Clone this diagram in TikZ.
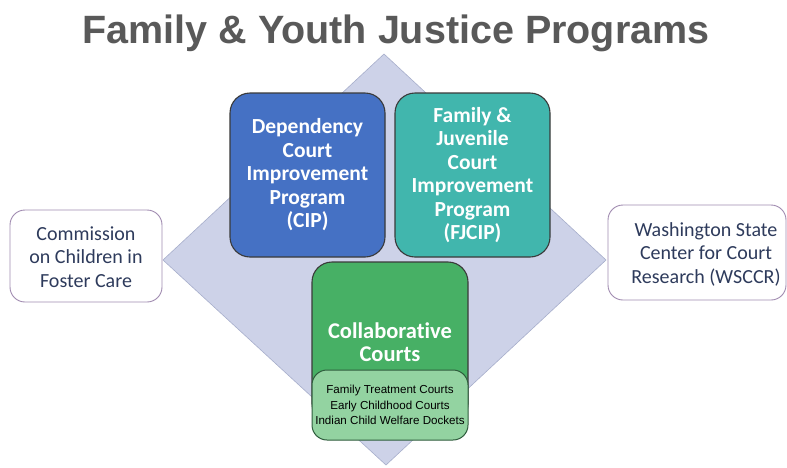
\documentclass[tikz,border=0pt]{standalone}
\usepackage{fontspec}
\setmainfont{Carlito}[RawFeature=-liga]
\newfontfamily\arialfont{Liberation Sans}
\definecolor{titlegray}{HTML}{595959}
\definecolor{diafill}{HTML}{CDD2E8}
\definecolor{diadraw}{HTML}{A7AECB}
\definecolor{cipblue}{HTML}{4571C4}
\definecolor{fjteal}{HTML}{41B6AD}
\definecolor{collgreen}{HTML}{47B065}
\definecolor{subgreen}{HTML}{93D3A1}
\definecolor{subdraw}{HTML}{2E5C3C}
\definecolor{sidedraw}{HTML}{A08BB0}
\definecolor{sidetext}{HTML}{2E3B5C}
\definecolor{boxdraw}{HTML}{3A3A3A}
\tikzset{
  prog/.style={draw=boxdraw, line width=1.1pt, rounded corners=20pt, inner sep=0pt,
    minimum width=155pt, text=white, align=center,
    font=\fontsize{21.5}{23.5}\selectfont\bfseries},
  side/.style={draw=sidedraw, line width=0.9pt, fill=white, rounded corners=15pt,
    inner sep=0pt, text=sidetext, align=center,
    font=\fontsize{20}{23.5}\selectfont},
}
\begin{document}
\begin{tikzpicture}[x=1pt,y=-1pt]
\useasboundingbox (0,0) rectangle (787,467);
\fill[white] (0,0) rectangle (787,467);
% title
\node[anchor=base, text=titlegray, font=\arialfont\fontsize{39.5}{44}\selectfont\bfseries] (title) at (396,43) {Family \& Youth Justice Programs};
% diamond
\coordinate (dt) at (384,54);
\coordinate (dr) at (606,260);
\coordinate (db) at (386,465);
\coordinate (dl) at (163,260);
\draw[fill=diafill, draw=diadraw, line width=0.6pt] (dt) -- (dr) -- (db) -- (dl) -- cycle;
% side boxes
\node[side, minimum width=152pt, minimum height=92pt] (ccfc) at (86,256) {};
\node[text=sidetext, align=center, font=\fontsize{20}{23.5}\selectfont] (ccfct) at (86,257) {Commission\\on Children in\\Foster Care};
\node[side, minimum width=178pt, minimum height=95pt] (wsccr) at (697,252.5) {};
\node[text=sidetext, align=center, font=\fontsize{20}{23.5}\selectfont] (wsccrt) at (706,254) {Washington State\\Center for Court\\Research (WSCCR)};
% program boxes
\node[prog, fill=cipblue, minimum height=164pt] (cip) at (307.5,175) {Dependency\\Court\\Improvement\\Program\\(CIP)};
\node[prog, fill=fjteal, minimum height=164pt] (fjcip) at (472.5,175) {Family \&\\Juvenile\\Court\\Improvement\\Program\\(FJCIP)};
\node[prog, fill=collgreen, minimum width=156pt, minimum height=162pt] (coll) at (390,343) {};
\node[text=white, align=center, font=\fontsize{22.5}{22.5}\selectfont\bfseries] (collt) at (390,342) {Collaborative\\Courts};
\node[draw=subdraw, line width=1pt, fill=subgreen, rounded corners=15pt, minimum width=156pt, minimum height=70pt, inner sep=0pt,
  align=center, font=\arialfont\fontsize{11.6}{15.8}\selectfont] (sub) at (390,405) {Family Treatment Courts\\Early Childhood Courts\\Indian Child Welfare Dockets};
\end{tikzpicture}
\end{document}
